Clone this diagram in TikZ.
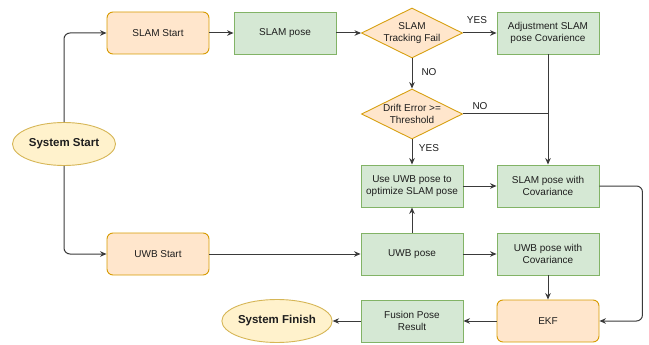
\documentclass[tikz,border=0pt]{standalone}
\usepackage{fontspec}
\setmainfont{Liberation Sans}
\usetikzlibrary{shapes.geometric,arrows.meta,calc}
\definecolor{ofill}{HTML}{FFE6CC}
\definecolor{odraw}{HTML}{D79B00}
\definecolor{gfill}{HTML}{D5E8D4}
\definecolor{gdraw}{HTML}{82B366}
\definecolor{yfill}{HTML}{FFF2CC}
\definecolor{ydraw}{HTML}{D6B656}
\definecolor{edgec}{HTML}{3A3A3A}
\definecolor{txt}{HTML}{1E1E1E}
\begin{document}
\begin{tikzpicture}[x=1pt,y=-1pt,
  base/.style={font=\fontsize{10}{12}\selectfont, text=txt, align=center, line width=0.9pt},
  obox/.style={base, rectangle, rounded corners=6pt, fill=ofill, draw=odraw, minimum width=102pt, minimum height=42pt, inner sep=1pt},
  gbox/.style={base, rectangle, fill=gfill, draw=gdraw, minimum width=102pt, minimum height=42pt, inner sep=1pt},
  decision/.style={base, diamond, aspect=2, fill=ofill, draw=odraw!80!ydraw, minimum width=101pt, minimum height=50pt, inner sep=-2pt},
  term/.style={base, ellipse, fill=yfill, draw=ydraw, minimum width=103pt, minimum height=43pt, inner sep=0pt, font=\fontsize{11.5}{13}\selectfont\bfseries},
  conn/.style={draw=edgec, line width=1pt, -{Stealth[length=6.5pt,width=5.5pt]}},
  plain/.style={draw=edgec, line width=1pt},
  lbl/.style={font=\fontsize{10}{12}\selectfont, text=txt, inner sep=0pt}]
\useasboundingbox (0,0) rectangle (649,345);

\node[term] (sstart) at (64,144) {System Start};
\node[obox] (slamstart) at (158,33) {SLAM Start};
\node[gbox] (slampose) at (285,33) {SLAM pose};
\node[decision] (d1) at (412,33) {SLAM\\Tracking Fail};
\node[gbox] (adj) at (548,33) {Adjustment SLAM\\pose Covarience};
\node[decision] (d2) at (412,114) {Drift Error >=\\Threshold};
\node[gbox] (use) at (412,186) {Use UWB pose to\\optimize SLAM pose};
\node[gbox] (slamcov) at (548,186) {SLAM pose with\\Covariance};
\node[obox] (uwbstart) at (158,254) {UWB Start};
\node[gbox] (uwbpose) at (412,254) {UWB pose};
\node[gbox] (uwbcov) at (548,254) {UWB pose with\\Covariance};
\node[obox] (ekf) at (548,321) {EKF};
\node[gbox] (fusion) at (412,321) {Fusion Pose\\Result};
\node[term] (sfinish) at (277,321) {System Finish};

\draw[conn, rounded corners=6pt] (sstart.north) |- (slamstart.west);
\draw[conn, rounded corners=6pt] (sstart.south) |- (uwbstart.west);
\draw[conn] (slamstart) -- (slampose);
\draw[conn] (slampose) -- (d1.west);
\draw[conn] (d1.east) -- (adj.west);
\draw[conn] (d1.south) -- (d2.north);
\draw[conn] (d2.south) -- (use.north);
\draw[conn] (adj.south) -- (slamcov.north);
\coordinate (join) at (d2.east -| adj.south);
\draw[plain] (d2.east) -- (join);
\draw[conn] (use) -- (slamcov);
\draw[conn] (uwbstart) -- (uwbpose);
\draw[conn] (uwbpose) -- (use);
\draw[conn] (uwbpose) -- (uwbcov);
\draw[conn] (uwbcov) -- (ekf);
\coordinate (rc) at ($(slamcov.east)+(43,0)$);
\draw[conn, rounded corners=6pt] (slamcov.east) -- (rc) |- (ekf.east);
\draw[conn] (ekf) -- (fusion);
\draw[conn] (fusion) -- (sfinish);

\node[lbl] (l1) at (477,20) {YES};
\node[lbl] (l2) at (429,72) {NO};
\node[lbl] (l3) at (480,106) {NO};
\node[lbl] (l4) at (429,148) {YES};
\end{tikzpicture}
\end{document}
